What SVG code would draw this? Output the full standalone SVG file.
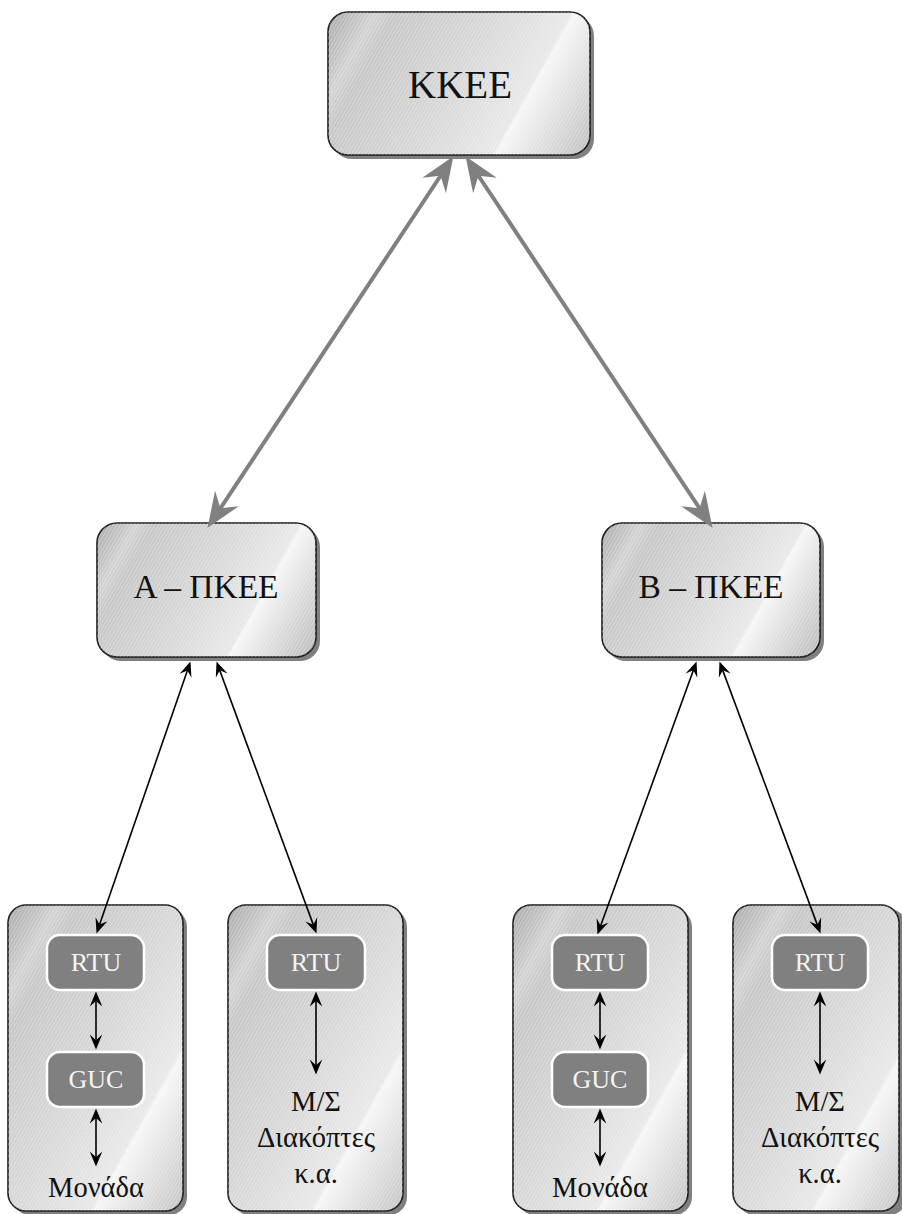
<svg xmlns="http://www.w3.org/2000/svg" xmlns:xlink="http://www.w3.org/1999/xlink" width="902" height="1214" viewBox="0 0 902 1214">
<style>
.shadow{fill:#808080;}
.box{stroke:#1a1a1a;stroke-width:1.6;}
.hatch{fill:url(#hatch);stroke:none;}
.inner{fill:#808080;stroke:#ffffff;stroke-width:2.5;}
.lbl{font-family:"Liberation Serif","DejaVu Serif",serif;fill:#111;text-anchor:middle;}
.gr{font-size:28.5px;}
.ilbl{font-family:"Liberation Serif","DejaVu Serif",serif;fill:#f4f4f4;text-anchor:middle;font-size:26px;}
.big{stroke:#808080;stroke-width:4;fill:none;marker-start:url(#gh);marker-end:url(#gh);}
.thin{stroke:#000;stroke-width:1.6;fill:none;marker-start:url(#bh);marker-end:url(#bh);}
</style>
<defs>
<linearGradient id="base">
<stop offset="0" stop-color="#a8a8a8"/>
<stop offset="0.1" stop-color="#c4c4c4"/>
<stop offset="0.14" stop-color="#d2d2d2"/>
<stop offset="0.2" stop-color="#c6c6c6"/>
<stop offset="0.5" stop-color="#d8d8d8"/>
<stop offset="0.71" stop-color="#e8e8e8"/>
<stop offset="0.72" stop-color="#f6f6f6"/>
<stop offset="1" stop-color="#bdbdbd"/>
</linearGradient>
<linearGradient id="g0" xlink:href="#base" gradientUnits="userSpaceOnUse" x1="328" y1="12" x2="590" y2="158"/>
<linearGradient id="gA" xlink:href="#base" gradientUnits="userSpaceOnUse" x1="97" y1="523" x2="316" y2="645"/>
<linearGradient id="gB" xlink:href="#base" gradientUnits="userSpaceOnUse" x1="602" y1="523" x2="820" y2="645"/>
<linearGradient id="g1" xlink:href="#base" gradientUnits="userSpaceOnUse" x1="8" y1="905" x2="280" y2="1057"/>
<linearGradient id="g2" xlink:href="#base" gradientUnits="userSpaceOnUse" x1="228" y1="905" x2="500" y2="1057"/>
<linearGradient id="g3" xlink:href="#base" gradientUnits="userSpaceOnUse" x1="513" y1="905" x2="785" y2="1057"/>
<linearGradient id="g4" xlink:href="#base" gradientUnits="userSpaceOnUse" x1="733" y1="905" x2="1000" y2="1055"/>
<pattern id="hatch" width="3" height="10" patternUnits="userSpaceOnUse" patternTransform="rotate(30)">
<rect x="0" y="0" width="1" height="10" fill="#ffffff" fill-opacity="0.3"/>
</pattern>
<marker id="gh" markerUnits="userSpaceOnUse" markerWidth="40" markerHeight="40" viewBox="-22 -10 24 20" refX="-12" refY="0" orient="auto-start-reverse" overflow="visible">
<path d="M0,0 L-21,-8.5 L-14,0 L-21,8.5 Z" fill="#808080"/>
</marker>
<marker id="bh" markerUnits="userSpaceOnUse" markerWidth="20" markerHeight="20" viewBox="-14 -6 16 12" refX="-6" refY="0" orient="auto-start-reverse" overflow="visible">
<path d="M0,0 L-12,-5 L-7.5,0 L-12,5 Z" fill="#000"/>
</marker>
</defs>
<rect width="902" height="1214" fill="#ffffff"/>

<g id="KKEE">
<rect class="shadow" x="332" y="16" width="262" height="143" rx="20"/>
<rect class="box" x="328" y="12" width="262" height="143" rx="20" fill="url(#g0)"/>
<rect class="hatch" x="328" y="12" width="262" height="143" rx="20"/>
<text class="lbl" x="460" y="98" font-size="39">ΚΚΕΕ</text>
</g>

<g id="A-PKEE">
<rect class="shadow" x="101" y="527" width="219" height="134" rx="20"/>
<rect class="box" x="97" y="523" width="219" height="134" rx="20" fill="url(#gA)"/>
<rect class="hatch" x="97" y="523" width="219" height="134" rx="20"/>
<text class="lbl" x="206" y="598" font-size="33.5">Α – ΠΚΕΕ</text>
</g>

<g id="B-PKEE">
<rect class="shadow" x="606" y="527" width="218" height="134" rx="20"/>
<rect class="box" x="602" y="523" width="218" height="134" rx="20" fill="url(#gB)"/>
<rect class="hatch" x="602" y="523" width="218" height="134" rx="20"/>
<text class="lbl" x="711" y="598" font-size="33.5">Β – ΠΚΕΕ</text>
</g>

<g id="unit1">
<rect class="shadow" x="12" y="909" width="175" height="306" rx="18"/>
<rect class="box" x="8" y="905" width="175" height="306" rx="18" fill="url(#g1)"/>
<rect class="hatch" x="8" y="905" width="175" height="306" rx="18"/>
<g id="unit1-rtu">
<rect class="inner" x="47" y="935" width="97" height="55" rx="13"/>
<text class="ilbl" x="96" y="971">RTU</text>
</g>
<g id="unit1-guc">
<rect class="inner" x="47" y="1052" width="97" height="55" rx="13"/>
<text class="ilbl" x="96" y="1088">GUC</text>
</g>
<path class="thin" d="M96,999 L96,1042"/>
<path class="thin" d="M96,1116 L96,1159"/>
<text class="lbl gr" x="96" y="1197">Μονάδα</text>
</g>

<g id="unit2">
<rect class="shadow" x="232" y="909" width="175" height="306" rx="18"/>
<rect class="box" x="228" y="905" width="175" height="306" rx="18" fill="url(#g2)"/>
<rect class="hatch" x="228" y="905" width="175" height="306" rx="18"/>
<g id="unit2-rtu">
<rect class="inner" x="267" y="935" width="98" height="55" rx="13"/>
<text class="ilbl" x="316" y="971">RTU</text>
</g>
<path class="thin" d="M316,999 L316,1067"/>
<text class="lbl gr" x="316" y="1111">Μ/Σ</text>
<text class="lbl gr" x="316" y="1147">Διακόπτες</text>
<text class="lbl gr" x="316" y="1183">κ.α.</text>
</g>

<g id="unit3">
<rect class="shadow" x="517" y="909" width="175" height="306" rx="18"/>
<rect class="box" x="513" y="905" width="175" height="306" rx="18" fill="url(#g3)"/>
<rect class="hatch" x="513" y="905" width="175" height="306" rx="18"/>
<g id="unit3-rtu">
<rect class="inner" x="552" y="935" width="96" height="55" rx="13"/>
<text class="ilbl" x="600" y="971">RTU</text>
</g>
<g id="unit3-guc">
<rect class="inner" x="552" y="1052" width="96" height="55" rx="13"/>
<text class="ilbl" x="600" y="1088">GUC</text>
</g>
<path class="thin" d="M600,999 L600,1042"/>
<path class="thin" d="M600,1116 L600,1159"/>
<text class="lbl gr" x="600" y="1197">Μονάδα</text>
</g>

<g id="unit4">
<rect class="shadow" x="737" y="909" width="170" height="306" rx="18"/>
<rect class="box" x="733" y="905" width="166" height="306" rx="18" fill="url(#g4)"/>
<rect class="hatch" x="733" y="905" width="166" height="306" rx="18"/>
<g id="unit4-rtu">
<rect class="inner" x="772" y="935" width="96" height="55" rx="13"/>
<text class="ilbl" x="820" y="971">RTU</text>
</g>
<path class="thin" d="M820,999 L820,1067"/>
<text class="lbl gr" x="820" y="1111">Μ/Σ</text>
<text class="lbl gr" x="820" y="1147">Διακόπτες</text>
<text class="lbl gr" x="820" y="1183">κ.α.</text>
</g>

<g id="connectors">
<path class="big" d="M442.4,173 L218.6,511"/>
<path class="big" d="M476.6,173 L701.4,511"/>
<path class="thin" d="M188,668.7 L99,926.3"/>
<path class="thin" d="M219.1,668.6 L313.9,926.4"/>
<path class="thin" d="M694,668.6 L600,927.4"/>
<path class="thin" d="M722.1,668.6 L817.9,926.4"/>
</g>
</svg>
